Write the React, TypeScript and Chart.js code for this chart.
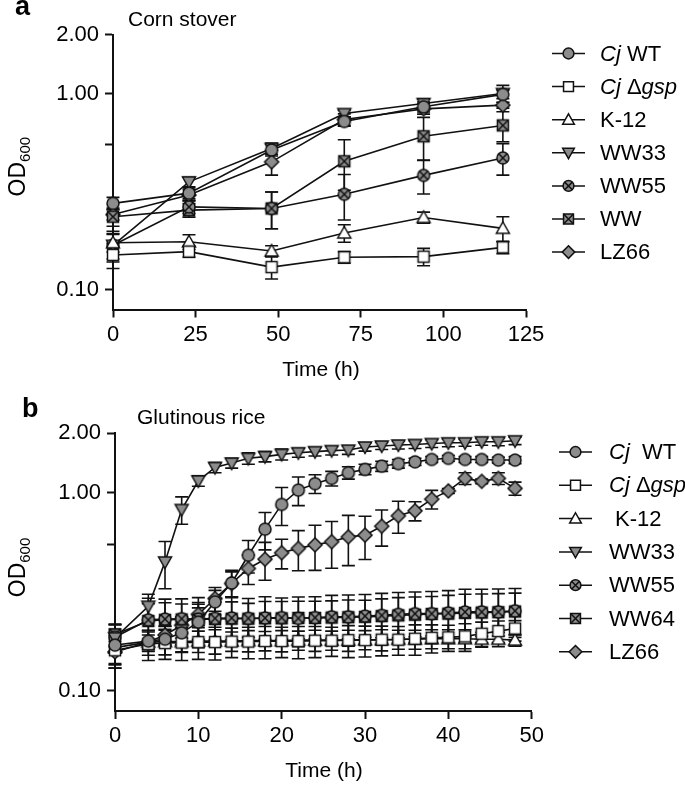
import React, { useEffect, useRef } from 'react';
import { Chart, registerables } from 'chart.js';
Chart.register(...registerables);

const FONT = 'Arial, "Liberation Sans", Helvetica, sans-serif';
const GRAY = '#8c8c8c';
const INK = '#111111';

// ---------- shared axis ----------
const yTickValues = [0.1, 0.55, 1, 2];
const yTickLabels = ['0.10', '', '1.00', '2.00'];
const markerKinds = ['circle', 'square', 'triangle', 'triDown', 'circleX', 'squareX', 'diamond'];

// ---------- panel a : Corn stover ----------
const timeA = [0, 23, 48, 70, 94, 118];
const xTicksA = [0, 25, 50, 75, 100, 125];
const namesA = ['Cj WT', 'Cj Δgsp', 'K-12', 'WW33', 'WW55', 'WW', 'LZ66'];
const cjWtA = [0.275, 0.31, 0.515, 0.72, 0.855, 0.99];
const dgspA = [0.15, 0.156, 0.13, 0.146, 0.147, 0.164];
const k12A = [0.173, 0.175, 0.157, 0.194, 0.233, 0.205];
const ww33A = [0.168, 0.354, 0.524, 0.79, 0.889, 1.0];
const ww55A = [0.168, 0.264, 0.259, 0.306, 0.382, 0.469];
const wwA = [0.235, 0.254, 0.259, 0.451, 0.605, 0.687];
const lz66A = [0.241, 0.303, 0.448, 0.737, 0.835, 0.872];
const sdCjWtA = [0.02, 0.02, 0.035, 0.04, 0.05, 0.05];
const sdDgspA = [0.022, 0.01, 0.017, 0.01, 0.015, 0.012];
const sdK12A = [0.018, 0.015, 0.01, 0.02, 0.015, 0.03];
const sdWw33A = [0.025, 0.02, 0.035, 0.03, 0.05, 0.1];
const sdWw55A = [0.03, 0.02, 0.055, 0.08, 0.075, 0.086];
const sdWwA = [0.025, 0.02, 0.055, 0.13, 0.15, 0.12];
const sdLz66A = [0.015, 0.02, 0.065, 0.05, 0.05, 0.03];

// ---------- panel b : Glutinous rice ----------
const timeB = [0, 4, 6, 8, 10, 12, 14, 16, 18, 20, 22, 24, 26, 28, 30, 32, 34, 36, 38, 40, 42, 44, 46, 48];
const xTicksB = [0, 10, 20, 30, 40, 50];
const namesB = ['Cj  WT', 'Cj Δgsp', ' K-12', 'WW33', 'WW55', 'WW64', 'LZ66'];
const cjWtB = [0.17, 0.178, 0.182, 0.196, 0.222, 0.281, 0.35, 0.483, 0.654, 0.872, 1.03, 1.11, 1.18, 1.26, 1.31, 1.36, 1.4, 1.43, 1.47, 1.49, 1.47, 1.47, 1.46, 1.46];
const dgspB = [0.16, 0.172, 0.174, 0.175, 0.176, 0.176, 0.177, 0.177, 0.178, 0.178, 0.178, 0.179, 0.179, 0.18, 0.18, 0.181, 0.181, 0.183, 0.185, 0.186, 0.188, 0.194, 0.2, 0.206];
const k12B = [0.165, 0.176, 0.177, 0.177, 0.178, 0.178, 0.178, 0.179, 0.179, 0.179, 0.18, 0.18, 0.18, 0.18, 0.181, 0.181, 0.182, 0.182, 0.183, 0.183, 0.183, 0.182, 0.182, 0.18];
const ww33B = [0.185, 0.267, 0.447, 0.822, 1.147, 1.34, 1.41, 1.49, 1.52, 1.56, 1.59, 1.61, 1.63, 1.64, 1.7, 1.72, 1.74, 1.75, 1.77, 1.785, 1.785, 1.806, 1.806, 1.827];
const ww55B = [0.186, 0.228, 0.23, 0.231, 0.23, 0.232, 0.233, 0.232, 0.233, 0.234, 0.232, 0.234, 0.236, 0.236, 0.238, 0.24, 0.243, 0.245, 0.245, 0.247, 0.25, 0.25, 0.25, 0.253];
const ww64B = [0.192, 0.225, 0.228, 0.229, 0.229, 0.23, 0.231, 0.231, 0.232, 0.232, 0.233, 0.233, 0.234, 0.235, 0.236, 0.238, 0.24, 0.242, 0.244, 0.245, 0.247, 0.248, 0.249, 0.251];
const lz66B = [0.157, 0.176, 0.191, 0.214, 0.243, 0.292, 0.348, 0.414, 0.461, 0.497, 0.523, 0.545, 0.565, 0.598, 0.61, 0.677, 0.764, 0.81, 0.927, 1.02, 1.18, 1.14, 1.18, 1.05];
const sdCjWtB = [0.035, 0.02, 0.03, 0.04, 0.04, 0.04, 0.055, 0.09, 0.14, 0.19, 0.17, 0.12, 0.1, 0.09, 0.08, 0.08, 0.07, 0.06, 0.05, 0.05, 0.05, 0.05, 0.05, 0.06];
const sdDgspB = [0.03, 0.03, 0.03, 0.033, 0.032, 0.033, 0.03, 0.032, 0.033, 0.031, 0.033, 0.032, 0.03, 0.033, 0.032, 0.031, 0.03, 0.032, 0.03, 0.028, 0.03, 0.028, 0.025, 0.02];
const sdK12B = [0.035, 0.025, 0.025, 0.02, 0.022, 0.025, 0.02, 0.022, 0.02, 0.022, 0.02, 0.022, 0.02, 0.022, 0.02, 0.022, 0.02, 0.02, 0.02, 0.02, 0.02, 0.015, 0.015, 0.012];
const sdWw33B = [0.03, 0.04, 0.12, 0.13, 0.07, 0.08, 0.08, 0.1, 0.09, 0.1, 0.08, 0.08, 0.08, 0.08, 0.08, 0.07, 0.08, 0.08, 0.08, 0.08, 0.07, 0.07, 0.08, 0.08];
const sdWw55B = [0.03, 0.065, 0.06, 0.06, 0.065, 0.06, 0.065, 0.06, 0.065, 0.06, 0.065, 0.064, 0.067, 0.068, 0.068, 0.07, 0.07, 0.07, 0.072, 0.073, 0.075, 0.075, 0.076, 0.075];
const sdWw64B = [0.025, 0.05, 0.05, 0.045, 0.05, 0.05, 0.05, 0.045, 0.05, 0.05, 0.05, 0.05, 0.05, 0.052, 0.05, 0.053, 0.055, 0.055, 0.055, 0.058, 0.06, 0.06, 0.06, 0.06];
const sdLz66B = [0.02, 0.015, 0.02, 0.02, 0.03, 0.04, 0.05, 0.07, 0.1, 0.085, 0.12, 0.14, 0.15, 0.17, 0.15, 0.14, 0.14, 0.09, 0.1, 0.03, 0.08, 0.03, 0.08, 0.08];

function drawMarker(ctx: CanvasRenderingContext2D, kind: string, x: number, y: number, k = 1) {
  ctx.save();
  ctx.translate(x, y);
  ctx.lineWidth = 1.5;
  ctx.strokeStyle = INK;
  ctx.lineJoin = 'miter';
  ctx.beginPath();
  let cross = 0;
  let fill = GRAY;
  switch (kind) {
    case 'circle':
      ctx.arc(0, 0, 6 * k, 0, Math.PI * 2);
      break;
    case 'square':
      ctx.rect(-5.5 * k, -5.5 * k, 11 * k, 11 * k);
      fill = '#ffffff';
      break;
    case 'triangle':
      ctx.moveTo(0, -6.5 * k); ctx.lineTo(6.5 * k, 5 * k); ctx.lineTo(-6.5 * k, 5 * k); ctx.closePath();
      fill = '#ffffff';
      break;
    case 'triDown':
      ctx.moveTo(0, 6.5 * k); ctx.lineTo(6.5 * k, -5 * k); ctx.lineTo(-6.5 * k, -5 * k); ctx.closePath();
      break;
    case 'circleX':
      ctx.arc(0, 0, 6 * k, 0, Math.PI * 2);
      cross = 4.2 * k;
      break;
    case 'squareX':
      ctx.rect(-5.5 * k, -5.5 * k, 11 * k, 11 * k);
      cross = 5.5 * k;
      break;
    case 'diamond':
      ctx.moveTo(0, -7 * k); ctx.lineTo(7 * k, 0); ctx.lineTo(0, 7 * k); ctx.lineTo(-7 * k, 0); ctx.closePath();
      break;
  }
  ctx.fillStyle = fill;
  ctx.fill();
  ctx.stroke();
  if (cross) {
    ctx.beginPath();
    ctx.moveTo(-cross, -cross); ctx.lineTo(cross, cross);
    ctx.moveTo(cross, -cross); ctx.lineTo(-cross, cross);
    ctx.stroke();
  }
  ctx.restore();
}

function makeMarker(kind: string): HTMLCanvasElement {
  const c = document.createElement('canvas');
  c.width = 18; c.height = 18;
  drawMarker(c.getContext('2d')!, kind, 9, 9);
  return c;
}

const panelA = {
  height: 390,
  area: { left: 113, right: 526, top: 34.5, bottom: 309.5 },
  xMax: 125, xTicks: xTicksA, times: timeA, names: namesA,
  series: [cjWtA, dgspA, k12A, ww33A, ww55A, wwA, lz66A],
  sds: [sdCjWtA, sdDgspA, sdK12A, sdWw33A, sdWw55A, sdWwA, sdLz66A],
  legend: { y0: 53.5, dy: 33.1, x1: 552, x2: 585, xm: 568.5, xt: 600 },
  letter: { t: 'a', x: 15, y: 15 },
  title: { t: 'Corn stover', x: 128, y: 26 },
  xTitle: { x: 321, y: 370 },
  yTitle: { x: 25, y: 166.7 },
};

const panelB = {
  height: 395,
  area: { left: 115, right: 531.7, top: 43, bottom: 321 },
  xMax: 50, xTicks: xTicksB, times: timeB, names: namesB,
  series: [cjWtB, dgspB, k12B, ww33B, ww55B, ww64B, lz66B],
  sds: [sdCjWtB, sdDgspB, sdK12B, sdWw33B, sdWw55B, sdWw64B, sdLz66B],
  legend: { y0: 62, dy: 33.3, x1: 559, x2: 592, xm: 575.5, xt: 609 },
  letter: { t: 'b', x: 22, y: 27 },
  title: { t: 'Glutinous rice', x: 137, y: 34 },
  xTitle: { x: 324, y: 381.7 },
  yTitle: { x: 25, y: 177.5 },
};

type Panel = typeof panelA;

function buildChart(canvas: HTMLCanvasElement, p: Panel) {
  const datasets = p.series.map((vals, i) => ({
    label: p.names[i],
    data: vals.map((v, j) => ({ x: p.times[j], y: v })),
    borderColor: INK,
    borderWidth: 1.6,
    backgroundColor: INK,
    pointStyle: makeMarker(markerKinds[i]) as any,
    pointRadius: 6,
    tension: 0,
    clip: false as any,
  }));

  const errorBars = {
    id: 'errorBars',
    beforeDatasetsDraw(chart: any) {
      const ctx = chart.ctx;
      const xs = chart.scales.x;
      const ys = chart.scales.y;
      ctx.save();
      ctx.strokeStyle = INK;
      ctx.lineWidth = 1.6;
      p.series.forEach((vals, i) => {
        vals.forEach((v, j) => {
          const sd = p.sds[i][j];
          const x = xs.getPixelForValue(p.times[j]);
          const hi = ys.getPixelForValue(v + sd);
          const lo = ys.getPixelForValue(Math.max(v - sd, 0.01));
          ctx.beginPath();
          ctx.moveTo(x, hi); ctx.lineTo(x, lo);
          ctx.moveTo(x - 6.5, hi); ctx.lineTo(x + 6.5, hi);
          ctx.moveTo(x - 6.5, lo); ctx.lineTo(x + 6.5, lo);
          ctx.stroke();
        });
      });
      ctx.restore();
    },
  };

  const decorations = {
    id: 'decorations',
    afterDraw(chart: any) {
      const ctx: CanvasRenderingContext2D = chart.ctx;
      ctx.save();
      ctx.fillStyle = '#000';
      ctx.textBaseline = 'alphabetic';
      ctx.textAlign = 'left';
      ctx.font = `bold 27px ${FONT}`;
      ctx.fillText(p.letter.t, p.letter.x, p.letter.y);
      ctx.font = `21px ${FONT}`;
      ctx.fillText(p.title.t, p.title.x, p.title.y);
      ctx.textAlign = 'center';
      ctx.textBaseline = 'middle';
      ctx.fillText('Time (h)', p.xTitle.x, p.xTitle.y);
      // y title OD600
      ctx.textAlign = 'left';
      ctx.textBaseline = 'alphabetic';
      ctx.font = `23px ${FONT}`;
      const wOD = ctx.measureText('OD').width;
      ctx.font = `15px ${FONT}`;
      const wSub = ctx.measureText('600').width;
      const total = wOD + wSub;
      ctx.save();
      ctx.translate(p.yTitle.x, p.yTitle.y);
      ctx.rotate(-Math.PI / 2);
      ctx.font = `23px ${FONT}`;
      ctx.fillText('OD', -total / 2, 0);
      ctx.font = `15px ${FONT}`;
      ctx.fillText('600', -total / 2 + wOD, 5);
      ctx.restore();
      // legend
      const L = p.legend;
      p.names.forEach((name, i) => {
        const y = L.y0 + i * L.dy;
        ctx.strokeStyle = INK;
        ctx.lineWidth = 1.5;
        ctx.beginPath();
        ctx.moveTo(L.x1, y); ctx.lineTo(L.x2, y);
        ctx.stroke();
        drawMarker(ctx, markerKinds[i], L.xm, y, 0.9);
        ctx.textBaseline = 'middle';
        ctx.fillStyle = '#000';
        let x = L.xt;
        name.split(/(Cj|gsp)/).forEach((seg) => {
          if (!seg) return;
          const it = seg === 'Cj' || seg === 'gsp';
          ctx.font = `${it ? 'italic ' : ''}22px ${FONT}`;
          ctx.fillText(seg, x, y + 1);
          x += ctx.measureText(seg).width;
        });
      });
      ctx.restore();
    },
  };

  const W = 685;
  return new Chart(canvas, {
    type: 'line',
    data: { datasets: datasets as any },
    plugins: [errorBars, decorations],
    options: {
      responsive: false,
      animation: false,
      events: [],
      layout: {
        autoPadding: false,
        padding: { left: 0, top: p.area.top, right: W - p.area.right, bottom: 0 },
      } as any,
      plugins: { legend: { display: false }, tooltip: { enabled: false }, title: { display: false } },
      scales: {
        x: {
          type: 'linear',
          min: 0,
          max: p.xMax,
          afterFit: (s: any) => { s.height = p.height - p.area.bottom; },
          afterBuildTicks: (s: any) => { s.ticks = p.xTicks.map((v) => ({ value: v })); },
          ticks: {
            autoSkip: false,
            maxRotation: 0,
            padding: 4,
            color: '#000',
            font: { family: FONT, size: 22 },
            callback: (v: any) => String(v),
          },
          grid: { drawOnChartArea: false, drawTicks: true, tickLength: 8, tickWidth: 2, tickColor: INK },
          border: { display: true, color: INK, width: 2 },
        },
        y: {
          type: 'logarithmic',
          min: 0.079,
          max: 2,
          bounds: 'data',
          afterFit: (s: any) => { s.width = p.area.left; },
          afterBuildTicks: (s: any) => { s.ticks = yTickValues.map((v) => ({ value: v })); },
          ticks: {
            autoSkip: false,
            padding: 6,
            color: '#000',
            font: { family: FONT, size: 22 },
            callback: (v: any) => {
              const k = yTickValues.indexOf(Number(v));
              return k >= 0 ? yTickLabels[k] : '';
            },
          },
          grid: { drawOnChartArea: false, drawTicks: true, tickLength: 8, tickWidth: 2, tickColor: INK },
          border: { display: true, color: INK, width: 2 },
        },
      },
    } as any,
  });
}

export default function App() {
  const refA = useRef<HTMLCanvasElement>(null);
  const refB = useRef<HTMLCanvasElement>(null);
  useEffect(() => {
    const a = buildChart(refA.current!, panelA);
    const b = buildChart(refB.current!, panelB);
    return () => { a.destroy(); b.destroy(); };
  }, []);
  return (
    <div style={{ position: 'absolute', left: 0, top: 0, width: 685, height: 785, background: '#fff' }}>
      <canvas ref={refA} width={685} height={390} style={{ position: 'absolute', left: 0, top: 0, display: 'block' }} />
      <canvas ref={refB} width={685} height={395} style={{ position: 'absolute', left: 0, top: 390, display: 'block' }} />
    </div>
  );
}
